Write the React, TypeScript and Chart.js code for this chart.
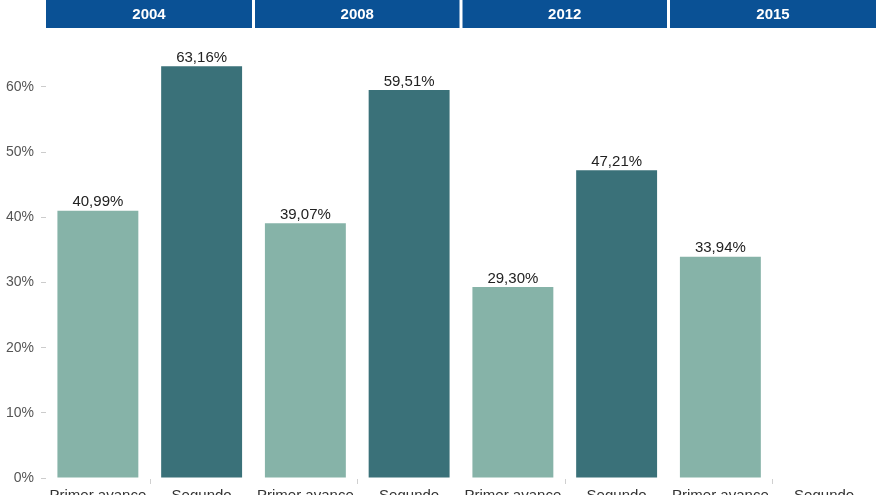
import React, { useEffect, useRef } from "react";
import { Chart, registerables } from "chart.js";

Chart.register(...registerables);

const years = ["2004", "2008", "2012", "2015"];
const categories: (string | string[])[] = [
  "Primer avance", ["Segundo", "avance"],
  "Primer avance", ["Segundo", "avance"],
  "Primer avance", ["Segundo", "avance"],
  "Primer avance", ["Segundo", "avance"],
];
const values: (number | null)[] = [40.99, 63.16, 39.07, 59.51, 29.3, 47.21, 33.94, null];
const yTicks = [0, 10, 20, 30, 40, 50, 60];

const LIGHT = "#86b3a8";
const DARK = "#3a7179";
const HEADER = "#0a5195";
const FONT = "'Liberation Sans', Arial, sans-serif";

const fmt = (v: number) => v.toFixed(2).replace(".", ",") + "%";

const overlayPlugin = {
  id: "overlay",
  afterDraw(chart: any) {
    const ctx = chart.ctx;
    const x = chart.scales.x;
    const y = chart.scales.y;
    ctx.save();
    const step = x.getPixelForValue(1) - x.getPixelForValue(0);
    years.forEach((yr, i) => {
      const left = x.getPixelForValue(i * 2) - step / 2;
      const right = x.getPixelForValue(i * 2 + 1) + step / 2;
      const l = i === 0 ? left : left + 1.5;
      const r = i === years.length - 1 ? right : right - 1.5;
      ctx.fillStyle = HEADER;
      ctx.fillRect(l, 0, r - l, 28);
      ctx.fillStyle = "#ffffff";
      ctx.font = "bold 15px " + FONT;
      ctx.textAlign = "center";
      ctx.textBaseline = "middle";
      ctx.fillText(yr, (l + r) / 2, 15);
    });
    ctx.fillStyle = "#222222";
    ctx.font = "15px " + FONT;
    ctx.textAlign = "center";
    ctx.textBaseline = "bottom";
    values.forEach((v, i) => {
      if (v == null) return;
      ctx.fillText(fmt(v), x.getPixelForValue(i), y.getPixelForValue(v) - 1);
    });
    ctx.strokeStyle = "#d0d0d0";
    ctx.lineWidth = 1;
    years.forEach((_, i) => {
      const cx = (x.getPixelForValue(i * 2) + x.getPixelForValue(i * 2 + 1)) / 2;
      ctx.beginPath();
      ctx.moveTo(Math.round(cx) + 0.5, y.bottom + 1);
      ctx.lineTo(Math.round(cx) + 0.5, y.bottom + 6);
      ctx.stroke();
    });
    ctx.restore();
  },
};

export default function App() {
  const ref = useRef<HTMLCanvasElement | null>(null);
  useEffect(() => {
    document.body.style.margin = "0";
    document.body.style.overflow = "hidden";
    const chart = new Chart(ref.current as HTMLCanvasElement, {
      type: "bar",
      data: {
        labels: categories,
        datasets: [
          {
            data: values,
            backgroundColor: values.map((_, i) => (i % 2 === 0 ? LIGHT : DARK)),
            barPercentage: 0.78,
            categoryPercentage: 1,
          },
        ],
      },
      options: {
        animation: false,
        responsive: true,
        maintainAspectRatio: false,
        devicePixelRatio: 1,
        layout: { padding: { top: 40, right: 4, left: 0, bottom: 0 } },
        plugins: { legend: { display: false }, tooltip: { enabled: false } },
        scales: {
          x: {
            grid: { display: false },
            border: { display: false },
            ticks: {
              color: "#333333",
              font: { family: FONT, size: 15 },
              padding: 1,
              maxRotation: 0,
              autoSkip: false,
            },
            afterFit: (s: any) => {
              s.height = 42;
            },
          },
          y: {
            min: 0,
            max: 67.2,
            grid: { drawOnChartArea: false, drawTicks: true, tickLength: 5, color: "#cccccc" },
            border: { display: false },
            afterBuildTicks: (s: any) => {
              s.ticks = yTicks.map((v) => ({ value: v }));
            },
            ticks: {
              color: "#555555",
              font: { family: FONT, size: 14 },
              padding: 7,
              callback: (v: any) => v + "%",
            },
            afterFit: (s: any) => {
              s.width = 46;
            },
          },
        },
      },
      plugins: [overlayPlugin],
    });
    return () => chart.destroy();
  }, []);
  return (
    <div style={{ width: 880, height: 520, position: "relative" }}>
      <canvas ref={ref} />
    </div>
  );
}
